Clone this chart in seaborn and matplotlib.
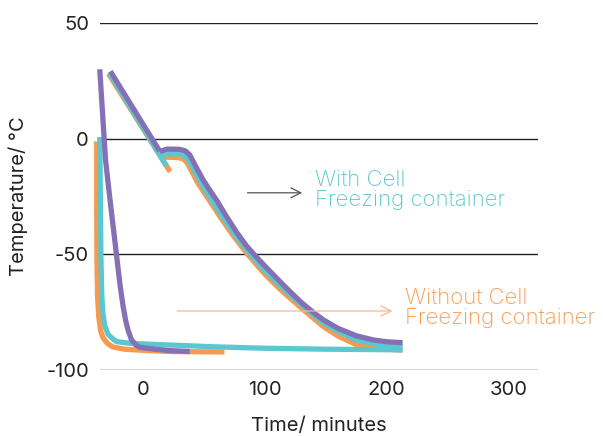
import pandas as pd
import matplotlib.pyplot as plt
import seaborn as sns

sns.set_theme(style='white')
plt.rcParams['font.family'] = ['Inter', 'DejaVu Sans']
plt.rcParams['axes.unicode_minus'] = False

# 快速降温（无冻存盒）
fast_teal_t = [-35.2, -34.8, -34.2, -33.5, -32.5, -31, -28.5, -24.6, -21.6, -10, 22, 60, 100, 150, 213]
fast_teal_y = [0.7, -20, -52.4, -68, -76, -81, -84.5, -86.5, -87.7, -88.5, -89.2, -90, -90.6, -91, -91.3]
fast_orange_t = [-37.7, -37.7, -37.5, -37, -36, -34.5, -32.6, -29, -24.6, -15, 0, 22, 67]
fast_orange_y = [-1.2, -30, -52, -68, -77, -83, -86, -88.5, -90, -91, -91.5, -92, -92.2]
fast_purple_t = [-35.2, -30.5, -26.8, -21, -18.5, -16.2, -14, -12, -9.3, -5.5, -2.5, 10, 22, 38.5]
fast_purple_y = [30, -9, -26.4, -52.4, -63.5, -72, -78.5, -82.8, -86.8, -89.3, -90.2, -91, -91.6, -92]

# 慢速降温（有冻存盒）：预冷段 + 主曲线
slow_orange_a_t = [-28, 22.5]
slow_orange_a_y = [28, -14.3]
slow_orange_b_t = [15.5, 20, 30, 34, 36.5, 39, 45, 55, 65, 75, 86, 100, 112, 120.5, 130, 148, 160, 175, 190, 213]
slow_orange_b_y = [-8.5, -8, -8.2, -9, -10.5, -13, -19, -27, -35, -42.5, -50, -58.5, -64.8, -68.8, -73.2, -81.2, -85.3, -89, -90.7, -91.4]
slow_teal_a_t = [-27.5, 19.5]
slow_teal_a_y = [28.5, -11.8]
slow_teal_b_t = [15, 20, 30, 35, 38, 41, 47, 57, 67, 77, 89, 100, 112, 120.5, 130, 148, 160, 175, 190, 213]
slow_teal_b_y = [-7, -6.5, -6.6, -7.5, -9.5, -12.5, -18.5, -27, -35, -42.5, -50.5, -57, -63.2, -67.3, -71.8, -79.6, -83.3, -87, -88.8, -89.8]
slow_purple_a_t = [-26.5, 14]
slow_purple_a_y = [29.1, -5.5]
slow_purple_b_t = [14, 20, 30, 35, 38.5, 41, 45, 49.4, 55, 60.3, 68.6, 77, 85, 92, 100, 112, 120.5, 130, 140, 148, 160, 175, 189, 200, 213]
slow_purple_b_y = [-5.5, -4.5, -4.6, -5.3, -7, -9.5, -13.5, -17.7, -22.3, -26.4, -33.6, -40.5, -46.3, -50.5, -55, -61.5, -66, -70.8, -75.2, -78.3, -82, -85.2, -87, -87.8, -88.2]

colors = {'orange': '#F79A4E', 'teal': '#5BC8D0', 'purple': '#8570B6'}

segments = [
    ('orange', fast_orange_t, fast_orange_y),
    ('orange', slow_orange_a_t, slow_orange_a_y),
    ('orange', slow_orange_b_t, slow_orange_b_y),
    ('teal', fast_teal_t, fast_teal_y),
    ('teal', slow_teal_a_t, slow_teal_a_y),
    ('teal', slow_teal_b_t, slow_teal_b_y),
    ('purple', fast_purple_t, fast_purple_y),
    ('purple', slow_purple_a_t, slow_purple_a_y),
    ('purple', slow_purple_b_t, slow_purple_b_y),
]

fig = plt.figure(figsize=(6.03, 4.36), dpi=100)
ax = fig.add_axes([100 / 603, 1 - 370 / 436, 438 / 603, 347 / 436])

for col, t, y in segments:
    df = pd.DataFrame({'time': t, 'temp': y})
    sns.lineplot(data=df, x='time', y='temp', sort=False, estimator=None,
                 color=colors[col], linewidth=3.8, ax=ax, clip_on=False,
                 solid_capstyle='butt', solid_joinstyle='round')

ax.set_xlim(-35, 324)
ax.set_ylim(-100, 50)
ax.set_xticks([0, 100, 200, 300])
ax.set_yticks([-100, -50, 0, 50])
ax.yaxis.grid(True, color='#222222', linewidth=1)
ax.set_axisbelow(True)
for s in ax.spines.values():
    s.set_visible(False)
ax.tick_params(length=0, labelsize=14.5, colors='#222222')
ax.tick_params(axis='y', pad=8)
ax.tick_params(axis='x', pad=8)
ax.set_xlabel('Time/ minutes', fontsize=14.5, color='#222222', labelpad=13)
ax.set_ylabel('Temperature/ °C', fontsize=14.5, color='#222222', labelpad=13)

# 标注
ax.annotate('', xy=(133, -23.4), xytext=(83.6, -23.4),
            arrowprops=dict(arrowstyle='->', color='#555555', lw=0.9, mutation_scale=18))
ax.text(141, -22, 'With Cell\nFreezing container', color='#5BC8D0', fontsize=16,
        fontweight='light', va='center', ha='left', linespacing=1.0, clip_on=False)
ax.annotate('', xy=(207, -74.5), xytext=(26, -74.5),
            arrowprops=dict(arrowstyle='->', color='#F9B98A', lw=0.9, mutation_scale=18))
ax.text(215, -73, 'Without Cell\nFreezing container', color='#F79A4E', fontsize=16,
        fontweight='light', va='center', ha='left', linespacing=1.0, clip_on=False)

plt.savefig('out.png', dpi=100)
